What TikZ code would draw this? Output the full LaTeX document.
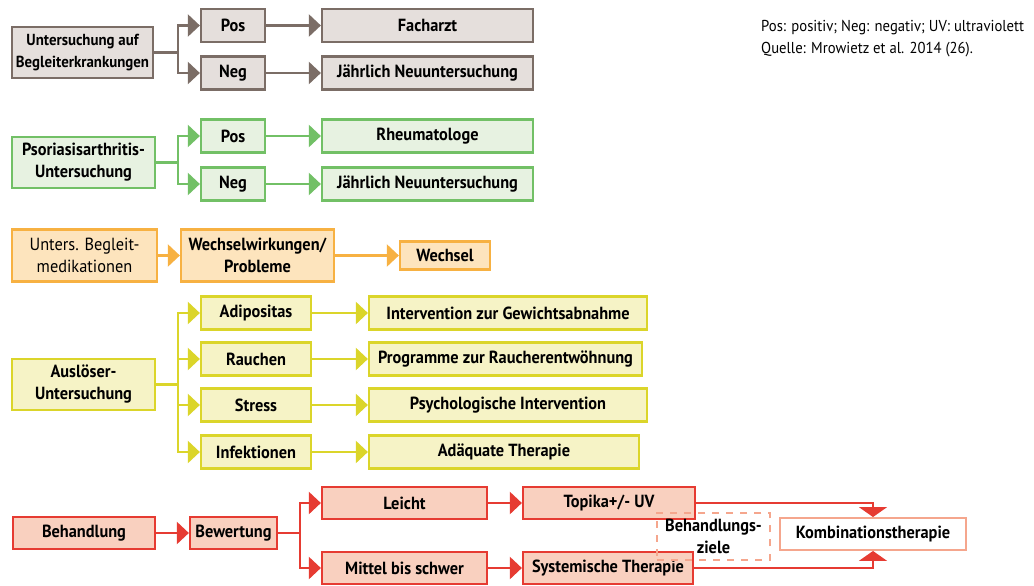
\documentclass[tikz,border=0pt]{standalone}
\usepackage{fontspec}
\setmainfont{PT Sans}[FakeStretch=0.93]
\usetikzlibrary{arrows.meta}
\definecolor{grauR}{HTML}{7B6D66}
\definecolor{grauF}{HTML}{E5DFDC}
\definecolor{gruenR}{HTML}{72C066}
\definecolor{gruenF}{HTML}{E7F2E1}
\definecolor{orangeR}{HTML}{F7B142}
\definecolor{orangeF}{HTML}{FDE4BD}
\definecolor{gelbR}{HTML}{DBD52A}
\definecolor{gelbF}{HTML}{F6F3C6}
\definecolor{rotR}{HTML}{E63B32}
\definecolor{rotF}{HTML}{F9D0BF}
\definecolor{lachs}{HTML}{F5A68D}

\begin{document}
\begin{tikzpicture}[x=0.02cm,y=-0.02cm,font=\fontsize{10}{12.5}\selectfont\bfseries]
	\useasboundingbox (0,0) rectangle (1034,585);
	\tikzstyle{Box}=[draw,rectangle,line width=1.3pt,align=center,inner sep=0pt,minimum height=0.66cm]
	\tikzstyle{Linie}=[line width=1.3pt]
	\tikzstyle{Spitze}=[-{Triangle[length=0.24cm,width=0.44cm]}]
	\tikzstyle{KombiSpitze}=[-{Triangle[length=0.2cm,width=0.56cm]}]
	\tikzstyle{GrauBox}=[Box,draw=grauR,fill=grauF]
	\tikzstyle{GruenBox}=[Box,draw=gruenR,fill=gruenF]
	\tikzstyle{OrangeBox}=[Box,draw=orangeR,fill=orangeF]
	\tikzstyle{GelbBox}=[Box,draw=gelbR,fill=gelbF]
	\tikzstyle{RotBox}=[Box,draw=rotR,fill=rotF]

	\node[GrauBox,minimum width=2.82cm,minimum height=1.02cm,font=\fontsize{9.1}{12.5}\selectfont\bfseries] (begl) at (82.5,52.5) {Untersuchung auf\\Begleiterkrankungen};
	\node[GrauBox,minimum width=1.28cm] (begpos) at (233,25.5) {Pos};
	\node[GrauBox,minimum width=1.28cm] (begneg) at (233,73) {Neg};
	\node[GrauBox,minimum width=4.22cm] (fach) at (427.5,25.5) {Facharzt};
	\node[GrauBox,minimum width=4.22cm] (begjahr) at (427.5,73) {Jährlich Neuuntersuchung};
	\coordinate (begsplit) at (178,52.5);
	\draw[Linie,grauR] (begl) -- (begsplit);
	\draw[Linie,Spitze,grauR] (begsplit) |- (begpos);
	\draw[Linie,Spitze,grauR] (begsplit) |- (begneg);
	\draw[Linie,Spitze,grauR] (begpos) -- (fach);
	\draw[Linie,Spitze,grauR] (begneg) -- (begjahr);

	\node[GruenBox,minimum width=2.86cm,minimum height=1.02cm] (psa) at (83.5,162.5) {Psoriasisarthritis-\\Untersuchung};
	\node[GruenBox,minimum width=1.28cm] (psapos) at (233,136) {Pos};
	\node[GruenBox,minimum width=1.28cm] (psaneg) at (233,184) {Neg};
	\node[GruenBox,minimum width=4.22cm] (rheuma) at (427.5,136) {Rheumatologe};
	\node[GruenBox,minimum width=4.22cm] (psajahr) at (427.5,184) {Jährlich Neuuntersuchung};
	\coordinate (psasplit) at (178,162.5);
	\draw[Linie,gruenR] (psa) -- (psasplit);
	\draw[Linie,Spitze,gruenR] (psasplit) |- (psapos);
	\draw[Linie,Spitze,gruenR] (psasplit) |- (psaneg);
	\draw[Linie,Spitze,gruenR] (psapos) -- (rheuma);
	\draw[Linie,Spitze,gruenR] (psaneg) -- (psajahr);

	\node[OrangeBox,minimum width=2.9cm,minimum height=1.04cm,font=\fontsize{10}{12.5}\selectfont\mdseries] (med) at (84.5,255.5) {Unters. Begleit-\\medikationen};
	\node[OrangeBox,minimum width=3.06cm,minimum height=1.04cm] (wech) at (257.5,255.5) {Wechselwirkungen/\\Probleme};
	\node[OrangeBox,minimum width=1.8cm,minimum height=0.56cm] (wechsel) at (445,255.5) {Wechsel};
	\draw[Linie,Spitze,orangeR] (med) -- (wech);
	\draw[Linie,Spitze,orangeR] (wech) -- (wechsel);

	\node[GelbBox,minimum width=2.86cm,minimum height=1.02cm] (ausl) at (83.5,384.5) {Auslöser-\\Untersuchung};
	\node[GelbBox,minimum width=2.2cm] (adip) at (256,313) {Adipositas};
	\node[GelbBox,minimum width=2.2cm] (rauch) at (256,359) {Rauchen};
	\node[GelbBox,minimum width=2.2cm] (stress) at (256,405) {Stress};
	\node[GelbBox,minimum width=2.2cm] (infek) at (256,452) {Infektionen};
	\node[GelbBox,minimum width=5.56cm] (gewicht) at (508,313) {Intervention zur Gewichtsabnahme};
	\node[GelbBox,minimum width=5.46cm] (raucher) at (505.5,359) {Programme zur Raucherentwöhnung};
	\node[GelbBox,minimum width=5.56cm] (psych) at (508,405) {Psychologische Intervention};
	\node[GelbBox,minimum width=5.4cm] (adaequat) at (504,452) {Adäquate Therapie};
	\coordinate (auslsplit) at (178,384.5);
	\draw[Linie,gelbR] (ausl) -- (auslsplit);
	\foreach \ziel/\mass in {adip/gewicht,rauch/raucher,stress/psych,infek/adaequat}{
		\draw[Linie,Spitze,gelbR] (auslsplit) |- (\ziel);
		\draw[Linie,Spitze,gelbR] (\ziel) -- (\mass);
	}

	\node[RotBox,minimum width=2.84cm,minimum height=0.64cm] (behand) at (84,533) {Behandlung};
	\node[RotBox,minimum width=1.74cm,minimum height=0.64cm] (bewert) at (233.5,533) {Bewertung};
	\node[RotBox,minimum width=3.3cm,minimum height=0.64cm] (leicht) at (404.5,503) {Leicht};
	\node[RotBox,minimum width=3.3cm,minimum height=0.64cm] (mittel) at (404.5,568) {Mittel bis schwer};
	\node[RotBox,minimum width=3.44cm,minimum height=0.64cm] (topika) at (609,503) {Topika+/- UV};
	\node[RotBox,minimum width=3.4cm,minimum height=0.64cm] (system) at (608,568) {Systemische Therapie};
	\node[Box,draw=lachs,fill=white,line width=1.1pt,minimum width=3.72cm,minimum height=0.64cm] (kombi) at (873,534) {Kombinationstherapie};
	\node[Box,draw=lachs,dashed,dash pattern=on 4pt off 4pt,line width=1.1pt,minimum width=2.26cm,minimum height=0.94cm] (ziele) at (713.5,536.5) {Behandlungs-\\ziele};
	\coordinate (bewsplit) at (300,533);
	\draw[Linie,Spitze,rotR] (behand) -- (bewert);
	\draw[Linie,rotR] (bewert) -- (bewsplit);
	\draw[Linie,Spitze,rotR] (bewsplit) |- (leicht);
	\draw[Linie,Spitze,rotR] (bewsplit) |- (mittel);
	\draw[Linie,Spitze,rotR] (leicht) -- (topika);
	\draw[Linie,Spitze,rotR] (mittel) -- (system);
	\draw[Linie,KombiSpitze,rotR] (topika.east) -| (kombi.north);
	\draw[Linie,KombiSpitze,rotR] (system.east) -| (kombi.south);

	\node[anchor=west,align=left,font=\fontsize{9}{12.9}\selectfont\mdseries] (legende) at (755,38.5) {Pos: positiv; Neg: negativ; UV: ultraviolett\\Quelle: Mrowietz et al. 2014 (26).};
\end{tikzpicture}
\end{document}
